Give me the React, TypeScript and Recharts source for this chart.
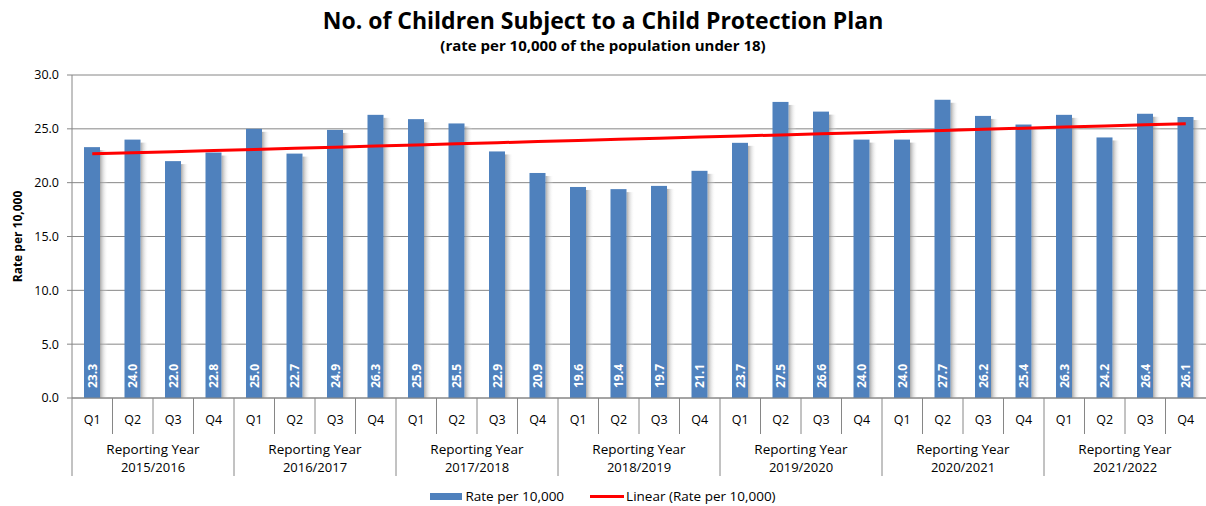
import { ComposedChart, Bar, Line, XAxis, YAxis, CartesianGrid, Legend, LabelList } from 'recharts';

const years = ['2015/2016', '2016/2017', '2017/2018', '2018/2019', '2019/2020', '2020/2021', '2021/2022'];
const quarters = ['Q1', 'Q2', 'Q3', 'Q4'];
const rates = [
  23.3, 24.0, 22.0, 22.8,
  25.0, 22.7, 24.9, 26.3,
  25.9, 25.5, 22.9, 20.9,
  19.6, 19.4, 19.7, 21.1,
  23.7, 27.5, 26.6, 24.0,
  24.0, 27.7, 26.2, 25.4,
  26.3, 24.2, 26.4, 26.1,
];
const yTicks = [0, 5, 10, 15, 20, 25, 30];

// least squares fit, same as Excel's linear trendline
const n = rates.length;
const xMean = (n - 1) / 2;
const yMean = rates.reduce((a, b) => a + b, 0) / n;
let sxy = 0;
let sxx = 0;
rates.forEach((r, i) => {
  sxy += (i - xMean) * (r - yMean);
  sxx += (i - xMean) * (i - xMean);
});
const slope = sxy / sxx;
const intercept = yMean - slope * xMean;

const data = rates.map((rate, i) => ({
  key: i,
  quarter: quarters[i % 4],
  year: years[Math.floor(i / 4)],
  rate,
  trend: intercept + slope * i,
}));

const FONT = '"Open Sans", sans-serif';
const W = 1206;
const H = 506;
const PLOT_LEFT = 72;
const BAND = (W - PLOT_LEFT) / rates.length;
const AXIS_GRAY = '#868686';
const BLUE = '#4F81BD';

const ShadowBar = (props: any) => {
  const { x, y, width, height, fill } = props;
  if (!height || height <= 0) return null;
  return (
    <g>
      <rect x={x + width} y={y + 3} width={8} height={height - 3} fill="url(#barShadow)" />
      <rect x={x} y={y} width={width} height={height} fill={fill} />
    </g>
  );
};

const BarValue = (props: any) => {
  const { x, y, width, height, value } = props;
  const cx = x + width / 2;
  const by = y + height - 10;
  return (
    <text
      x={cx}
      y={by}
      transform={`rotate(-90 ${cx} ${by})`}
      textAnchor="start"
      dominantBaseline="central"
      fill="#fff"
      fontSize={12}
      fontWeight="bold"
      fontFamily={FONT}
    >
      {Number(value).toFixed(1)}
    </text>
  );
};

const QuarterTick = (props: any) => {
  const { x, y, payload } = props;
  const i = payload.value as number;
  const left = x - BAND / 2;
  const first = i % 4 === 0;
  return (
    <g fontFamily={FONT} fill="#000">
      <line x1={left} x2={left} y1={y} y2={y + (first ? 78 : 36)} stroke={AXIS_GRAY} />
      <text x={x} y={y + 26} textAnchor="middle" fill="#000" fontSize={12.5}>
        {data[i].quarter}
      </text>
      {first && (
        <text x={left + BAND * 2} y={y + 56} textAnchor="middle" fill="#000" fontSize={13.5}>
          <tspan x={left + BAND * 2}>Reporting Year</tspan>
          <tspan x={left + BAND * 2} dy={18} fontSize={13}>{data[i].year}</tspan>
        </text>
      )}
    </g>
  );
};

const LegendContent = () => (
  <div
    style={{
      height: 20,
      display: 'flex',
      alignItems: 'center',
      justifyContent: 'center',
      fontFamily: FONT,
      fontSize: 13.5,
      color: '#000',
    }}
  >
    <span style={{ display: 'inline-block', width: 32, height: 7, background: BLUE, marginRight: 3 }} />
    <span style={{ marginRight: 26 }}>Rate per 10,000</span>
    <span style={{ display: 'inline-block', width: 34, height: 3, background: '#FF0000', marginRight: 2 }} />
    <span>Linear (Rate per 10,000)</span>
  </div>
);

export default function App() {
  return (
    <div style={{ position: 'absolute', left: 0, top: 0, width: W, height: H, background: '#fff' }}>
      <div
        style={{
          position: 'absolute',
          left: 0,
          width: W,
          top: 5,
          textAlign: 'center',
          fontFamily: FONT,
          fontWeight: 'bold',
          fontSize: 23,
          lineHeight: '31px',
          color: '#000',
        }}
      >
        No. of Children Subject to a Child Protection Plan
      </div>
      <div
        style={{
          position: 'absolute',
          left: 0,
          width: W,
          top: 35,
          textAlign: 'center',
          fontFamily: FONT,
          fontWeight: 'bold',
          fontSize: 15,
          lineHeight: '20px',
          color: '#000',
        }}
      >
        (rate per 10,000 of the population under 18)
      </div>
      <ComposedChart width={W} height={H} data={data} margin={{ top: 75, right: 0, bottom: 0, left: 0 }}>
        <defs>
          <linearGradient id="barShadow" x1="0" y1="0" x2="1" y2="0">
            <stop offset="0%" stopColor="#8c8c8c" stopOpacity={0.75} />
            <stop offset="100%" stopColor="#ffffff" stopOpacity={0} />
          </linearGradient>
        </defs>
        <CartesianGrid vertical={false} stroke={AXIS_GRAY} />
        <XAxis
          dataKey="key"
          interval={0}
          height={88}
          tick={<QuarterTick />}
          tickLine={false}
          tickSize={0}
          tickMargin={0}
          axisLine={{ stroke: AXIS_GRAY }}
        />
        <YAxis
          width={PLOT_LEFT}
          domain={[0, 30]}
          ticks={yTicks}
          tickFormatter={(v: number) => v.toFixed(1)}
          tick={{ fill: '#000', fontSize: 12.5, fontFamily: FONT }}
          tickLine={{ stroke: AXIS_GRAY }}
          tickSize={5}
          tickMargin={8}
          axisLine={{ stroke: AXIS_GRAY }}
          label={{
            value: 'Rate per 10,000',
            angle: -90,
            position: 'insideLeft',
            offset: 18,
            style: { textAnchor: 'middle', fontFamily: FONT, fontSize: 12, fontWeight: 'bold', fill: '#000' },
          }}
        />
        <Legend verticalAlign="bottom" content={<LegendContent />} />
        <Bar dataKey="rate" name="Rate per 10,000" fill={BLUE} barSize={16} shape={<ShadowBar />} isAnimationActive={false}>
          <LabelList dataKey="rate" content={<BarValue />} />
        </Bar>
        <Line
          dataKey="trend"
          name="Linear (Rate per 10,000)"
          type="linear"
          stroke="#FF0000"
          strokeWidth={3}
          dot={false}
          activeDot={false}
          isAnimationActive={false}
        />
      </ComposedChart>
    </div>
  );
}
